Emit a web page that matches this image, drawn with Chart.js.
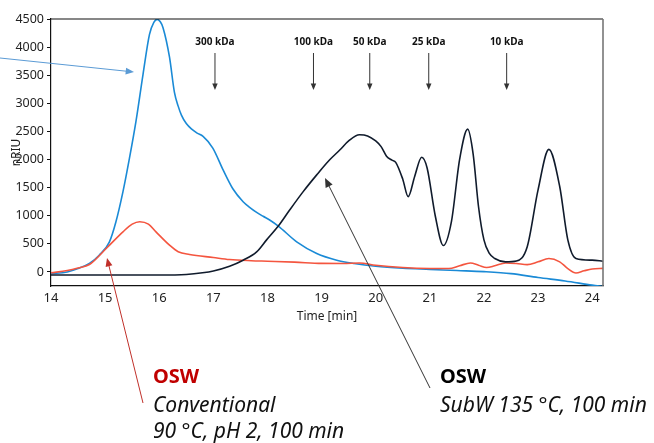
<!DOCTYPE html>
<html>
<head>
<meta charset="utf-8">
<script src="https://cdn.jsdelivr.net/npm/chart.js@4.4.0/dist/chart.umd.min.js"></script>
<style>
  html, body { margin: 0; padding: 0; background: #fff; }
  #wrap { width: 654px; height: 443px; position: relative; }
</style>
</head>
<body>
<div id="wrap"><canvas id="gpc"></canvas></div>
<script>
// blue trace (reference sample)
const blueTime = [14.0, 14.3, 14.5, 14.71, 14.89, 15.08, 15.2, 15.33, 15.45, 15.57, 15.7, 15.82, 15.9, 15.96, 16.02, 16.07, 16.19, 16.28, 16.35, 16.41, 16.5, 16.6, 16.7, 16.81, 16.99, 17.18, 17.36, 17.55, 17.67, 17.8, 17.92, 18.04, 18.2, 18.54, 18.91, 19.28, 19.6, 20.0, 20.5, 21.0, 21.5, 22.0, 22.5, 23.0, 23.5, 24.0, 24.2];
const blueRiu  = [-30, 0, 60, 150, 298, 536, 893, 1429, 2025, 2679, 3512, 4226, 4440, 4494, 4450, 4346, 3820, 3200, 2950, 2790, 2640, 2540, 2470, 2411, 2204, 1816, 1480, 1250, 1150, 1060, 990, 925, 816, 536, 329, 209, 150, 100, 65, 45, 25, 5, -30, -100, -160, -235, -260];

// OSW conventional, 90 °C, pH 2, 100 min (red)
const convTime = [14.0, 14.3, 14.5, 14.71, 15.02, 15.33, 15.5, 15.64, 15.8, 15.94, 16.19, 16.35, 16.56, 17.0, 17.3, 17.7, 18.0, 18.5, 19.0, 19.4, 19.7, 20.0, 20.5, 21.0, 21.35, 21.55, 21.75, 21.9, 22.05, 22.2, 22.4, 22.6, 22.8, 23.0, 23.2, 23.4, 23.55, 23.7, 23.85, 24.0, 24.2];
const convRiu  = [-15, 25, 70, 132, 418, 714, 850, 893, 850, 714, 477, 360, 311, 257, 221, 200, 191, 175, 152, 150, 160, 120, 79, 61, 60, 110, 160, 120, 79, 110, 160, 150, 130, 180, 238, 180, 60, -18, 20, 52, 63];

// OSW SubW 135 °C, 100 min (black)
const subwTime = [14.0, 15.0, 16.0, 16.5, 16.8, 17.0, 17.3, 17.55, 17.8, 17.98, 18.2, 18.41, 18.66, 18.91, 19.15, 19.34, 19.5, 19.7, 19.85, 20.0, 20.1, 20.2, 20.3, 20.37, 20.5, 20.6, 20.72, 20.85, 20.95, 21.1, 21.25, 21.4, 21.55, 21.7, 21.8, 21.9, 22.0, 22.1, 22.2, 22.4, 22.6, 22.8, 23.0, 23.2, 23.4, 23.55, 23.7, 24.0, 24.2];
const subwRiu  = [-55, -55, -55, -45, -15, 18, 102, 209, 357, 566, 816, 1102, 1429, 1727, 1995, 2173, 2330, 2440, 2420, 2330, 2230, 2060, 1990, 1950, 1650, 1340, 1700, 2040, 1850, 1000, 470, 900, 2000, 2540, 2100, 1160, 570, 330, 240, 180, 195, 450, 1460, 2180, 1520, 570, 240, 210, 190];

const xTicks = [14, 15, 16, 17, 18, 19, 20, 21, 22, 23, 24];
const yTicks = [0, 500, 1000, 1500, 2000, 2500, 3000, 3500, 4000, 4500];

// molecular weight markers
const kdaLabels = ['300 kDa', '100 kDa', '50 kDa', '25 kDa', '10 kDa'];
const kdaTimes = [17.03, 18.85, 19.89, 20.98, 22.42];

const toPts = (t, v) => t.map((x, i) => ({ x: x, y: v[i] }));

function arrow(ctx, x0, y0, x1, y1, color, w, head) {
    ctx.save();
    ctx.strokeStyle = color;
    ctx.fillStyle = color;
    ctx.lineWidth = w;
    const a = Math.atan2(y1 - y0, x1 - x0);
    ctx.beginPath();
    ctx.moveTo(x0, y0);
    ctx.lineTo(x1 - Math.cos(a) * head * 0.8, y1 - Math.sin(a) * head * 0.8);
    ctx.stroke();
    ctx.beginPath();
    ctx.moveTo(x1, y1);
    ctx.lineTo(x1 - head * Math.cos(a - 0.4), y1 - head * Math.sin(a - 0.4));
    ctx.lineTo(x1 - head * Math.cos(a + 0.4), y1 - head * Math.sin(a + 0.4));
    ctx.closePath();
    ctx.fill();
    ctx.restore();
}

const overlay = {
    id: 'overlay',
    afterDraw(chart) {
        const ctx = chart.ctx;
        const area = chart.chartArea;
        const xs = chart.scales.x;
        ctx.save();
        // frame top / right
        ctx.strokeStyle = '#111';
        ctx.lineWidth = 1.2;
        ctx.beginPath();
        ctx.moveTo(area.left, area.top);
        ctx.lineTo(area.right, area.top);
        ctx.stroke();
        ctx.strokeStyle = '#777';
        ctx.lineWidth = 1.6;
        ctx.beginPath();
        ctx.moveTo(area.right, area.top);
        ctx.lineTo(area.right, area.bottom);
        ctx.stroke();

        // kDa markers
        ctx.font = 'bold 10px "Noto Sans"';
        ctx.textAlign = 'center';
        ctx.textBaseline = 'middle';
        kdaLabels.forEach((lab, i) => {
            const px = xs.getPixelForValue(kdaTimes[i]);
            ctx.fillStyle = '#111';
            ctx.fillText(lab, px, 42);
            arrow(ctx, px, 53, px, 90, '#333', 1, 7);
        });

        // callouts
        arrow(ctx, 0, 58, 134, 72, '#5b9bd5', 1, 9);
        arrow(ctx, 143, 403, 107, 258, '#c0302a', 1, 9);
        arrow(ctx, 430, 388, 325, 178, '#333', 1, 10);

        ctx.textAlign = 'left';
        ctx.textBaseline = 'alphabetic';
        ctx.font = 'bold 20px "Noto Sans"';
        ctx.fillStyle = '#c00000';
        ctx.fillText('OSW', 153, 383);
        ctx.fillStyle = '#000';
        ctx.fillText('OSW', 440, 383);
        ctx.font = 'italic 21px "Noto Sans"';
        ctx.fillStyle = '#111';
        ctx.fillText('Conventional', 153, 412);
        ctx.fillText('90 °C, pH 2, 100 min', 153, 438);
        ctx.fillText('SubW 135 °C, 100 min', 440, 412);
        ctx.restore();
    }
};

new Chart(document.getElementById('gpc'), {
    type: 'line',
    data: {
        datasets: [
            {
                label: 'OSW SubW 135 °C, 100 min',
                data: toPts(subwTime, subwRiu),
                borderColor: '#101b2c',
                borderWidth: 1.6,
            },
            {
                label: 'OSW Conventional 90 °C, pH 2, 100 min',
                data: toPts(convTime, convRiu),
                borderColor: '#f4553f',
                borderWidth: 1.6,
            },
            {
                label: 'Reference',
                data: toPts(blueTime, blueRiu),
                borderColor: '#1a8ad6',
                borderWidth: 1.6,
            }
        ]
    },
    options: {
        responsive: true,
        maintainAspectRatio: false,
        animation: false,
        elements: {
            point: { radius: 0 },
            line: { cubicInterpolationMode: 'monotone', fill: false }
        },
        layout: { padding: { left: 0, right: 51, top: 19, bottom: 117 } },
        plugins: {
            legend: { display: false },
            tooltip: { enabled: false }
        },
        scales: {
            x: {
                type: 'linear',
                min: 14,
                max: 24.2,
                afterBuildTicks: (s) => { s.ticks = xTicks.map(v => ({ value: v })); },
                afterFit: (s) => { s.height = 40; },
                grid: { display: false, drawTicks: false },
                border: { display: true, color: '#111', width: 1.2 },
                ticks: {
                    padding: 4,
                    maxRotation: 0,
                    color: '#222',
                    font: { family: 'Noto Sans', size: 13 },
                    callback: (v) => String(v)
                },
                title: {
                    display: true,
                    text: 'Time [min]',
                    color: '#222',
                    font: { family: 'Noto Sans', size: 12 },
                    padding: { top: 0, bottom: 2 }
                }
            },
            y: {
                min: -250,
                max: 4500,
                afterBuildTicks: (s) => { s.ticks = yTicks.map(v => ({ value: v })); },
                afterFit: (s) => { s.width = 51; },
                grid: { drawOnChartArea: false, drawTicks: true, tickLength: 4, color: '#111' },
                border: { display: true, color: '#111', width: 1.2 },
                ticks: {
                    padding: 3,
                    color: '#222',
                    font: { family: 'Noto Sans', size: 12.5 },
                    callback: (v) => String(v)
                },
                title: {
                    display: true,
                    text: 'nRIU',
                    color: '#222',
                    font: { family: 'Noto Sans', size: 12 },
                    padding: { top: 9, bottom: 0 }
                }
            }
        }
    },
    plugins: [overlay]
});
</script>
</body>
</html>
